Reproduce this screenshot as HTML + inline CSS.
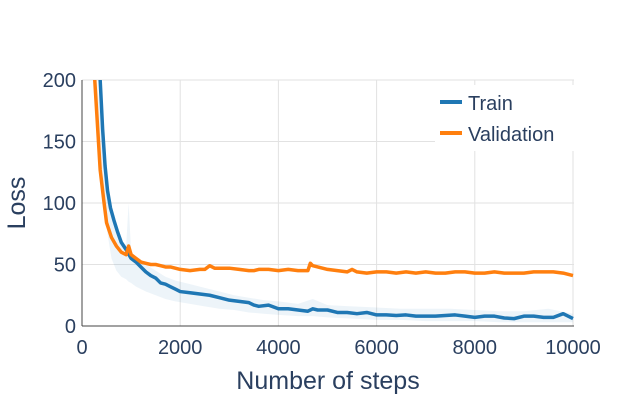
<!DOCTYPE html>
<html><head><meta charset="utf-8"><style>
body{margin:0;background:#fff;}
svg{font-family:"Liberation Sans",sans-serif;display:block}
</style></head><body>
<svg width="642" height="403">
<g id="grid"></g>
<g id="series"></g>
<line x1="82" y1="326" x2="574" y2="326" stroke="#444" stroke-width="1"/>
<line x1="82" y1="80" x2="82" y2="326" stroke="#444" stroke-width="1"/>
<g id="ticks"></g>
<text x="328" y="389" font-size="25" fill="#2a3f5f" text-anchor="middle">Number of steps</text>
<text transform="translate(25,203) rotate(-90)" font-size="25" fill="#2a3f5f" text-anchor="middle">Loss</text>
<g>
<rect x="435" y="85" width="140" height="66" fill="#fff"/>
<line x1="440" y1="102" x2="462" y2="102" stroke="#1f77b4" stroke-width="4"/>
<text x="468" y="110" font-size="20" fill="#2a3f5f">Train</text>
<line x1="440" y1="133" x2="462" y2="133" stroke="#ff7f0e" stroke-width="4"/>
<text x="468" y="141" font-size="20" fill="#2a3f5f">Validation</text>
</g>
</svg>
<script>
const xTicks=[0,2000,4000,6000,8000,10000];
const yTicks=[0,50,100,150,200];
const trainSteps=[300,370,420,470,520,580,650,720,800,900,1000,1100,1200,1300,1400,1500,1600,1700,1800,1900,2000,2200,2400,2600,2800,3000,3200,3400,3500,3600,3800,4000,4200,4400,4600,4700,4800,5000,5200,5400,5600,5800,6000,6200,6400,6600,6800,7000,7200,7400,7600,7800,8000,8200,8400,8600,8800,9000,9200,9400,9600,9800,10000];
const trainValues=[260,200,160,130,110,96,86,77,68,62,55,52,48,44,41,39,35,34,32,30,28,27,26,25,23,21,20,19,17,16,17,14,14,13,12,14,13,13,11,11,10,11,9,9,8.5,9,8,8,8,8.5,9,8,7,8,8,6.5,6,8,8,7,7,10,6];
const rawSteps=[300,400,500,600,700,800,900,950,1000,1100,1300,1500,1700,1900,2200,2500,2800,3100,3400,3700,4000,4400,4700,5000,5500,6000,6500,7000,7500,8000,8500,9000,9500,10000];
const rawHigh=[200,160,115,88,75,68,66,100,60,55,50,45,40,37,34,31,28,25,23,21,20,18,22,17,16,15,14,14,14,13,12,12,14,10];
const rawLow=[150,110,80,55,45,40,38,36,35,32,28,25,22,20,18,16,14,13,11,10,9,8,8,7,6,5,5,4,4,4,3,3,3,3];
const valSteps=[200,260,370,450,500,550,600,700,800,900,950,1000,1100,1200,1300,1400,1500,1600,1700,1800,1900,2000,2200,2400,2500,2600,2700,2800,3000,3200,3400,3500,3600,3800,4000,4200,4400,4600,4650,4700,4800,5000,5200,5400,5500,5600,5800,6000,6200,6400,6600,6800,7000,7200,7400,7600,7800,8000,8200,8400,8600,8800,9000,9200,9400,9600,9800,10000];
const valValues=[260,200,127,100,84,78,72,65,60,58,65,58,55,52,51,50,50,49,48,48,47,46,45,46,46,49,47,47,47,46,45,45,46,46,45,46,45,45,51,49,48,46,45,44,46,44,43,44,44,43,44,43,44,43,43,44,44,43,43,44,43,43,43,44,44,44,43,41];
const X=v=>82+v/10000*491;
const Y=v=>326-v/200*246;
const NS="http://www.w3.org/2000/svg";
const grid=document.getElementById('grid'),ticks=document.getElementById('ticks'),ser=document.getElementById('series');
function mk(tag,at,parent){const e=document.createElementNS(NS,tag);for(const k in at)e.setAttribute(k,at[k]);parent.appendChild(e);return e;}
xTicks.forEach(t=>{
 const l=mk('line',{x1:X(t),x2:X(t),y1:80,y2:326,stroke:'#e2e2e2'},grid);
 
 
 const tx=mk('text',{x:X(t),y:354,'font-size':20,fill:'#2a3f5f','text-anchor':'middle'},ticks);
 tx.textContent=t;
 
 
});
yTicks.forEach(t=>{
 const l=mk('line',{x1:82,x2:574,y1:Y(t),y2:Y(t),stroke:'#e2e2e2'},grid);
 
 
 const tx=mk('text',{x:76,y:Y(t)+7,'font-size':20,fill:'#2a3f5f','text-anchor':'end'},ticks);
 tx.textContent=t;
 
 
});
const cy=v=>Math.max(60,Y(v));
let band=rawSteps.map((s,i)=>X(s)+','+cy(rawHigh[i])).join(' ')+' '+rawSteps.map((s,i)=>X(s)+','+cy(rawLow[i])).reverse().join(' ');
const b=mk('polygon',{points:band,fill:'#1f77b4','fill-opacity':0.08},ser);


const clip=mk('clipPath',{id:'pc'},ser);mk('rect',{x:82,y:80,width:492,height:248},clip);
const tl=mk('polyline',{points:trainSteps.map((s,i)=>X(s)+','+Y(trainValues[i])).join(' '),fill:'none',stroke:'#1f77b4','stroke-width':3.5,'stroke-linejoin':'round','clip-path':'url(#pc)'},ser);


const vl=mk('polyline',{points:valSteps.map((s,i)=>X(s)+','+Y(valValues[i])).join(' '),fill:'none',stroke:'#ff7f0e','stroke-width':3.5,'stroke-linejoin':'round','clip-path':'url(#pc)'},ser);


</script>
</body></html>
